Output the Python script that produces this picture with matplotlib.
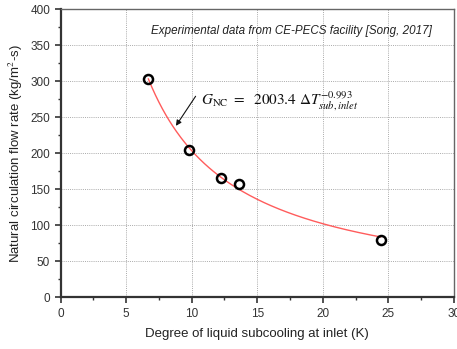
import matplotlib
matplotlib.use('Agg')
import matplotlib.pyplot as plt
from matplotlib.ticker import MultipleLocator
import numpy as np

subcooling = [6.7, 9.8, 12.2, 13.6, 24.4]
flow_rate = [303, 205, 166, 157, 80]

# fit shown on the chart: G = 2003.4 * dT^-0.993
fit_coef = 2003.4
fit_exp = -0.993
fit_range = [6.7, 24.4]

plt.rcParams['font.family'] = ['Liberation Sans', 'DejaVu Sans']
plt.rcParams['mathtext.fontset'] = 'stix'

fig = plt.figure(figsize=(4.57, 3.49), dpi=100)
ax = fig.add_axes([0.1324, 0.1476, 0.8610, 0.8266])

dt = np.linspace(fit_range[0], fit_range[1], 200)
ax.plot(dt, fit_coef * dt ** fit_exp, color='#ff5c5c', linewidth=1.0, zorder=2)
ax.plot(subcooling, flow_rate, 'o', markersize=6.5, markerfacecolor='none',
        markeredgecolor='black', markeredgewidth=1.8, zorder=3)

ax.set_xlim(0, 30)
ax.set_ylim(0, 400)
ax.xaxis.set_major_locator(MultipleLocator(5))
ax.xaxis.set_minor_locator(MultipleLocator(2.5))
ax.yaxis.set_major_locator(MultipleLocator(50))
ax.yaxis.set_minor_locator(MultipleLocator(25))
ax.grid(True, which='major', color='#aaaaaa', linestyle=(0, (1, 1.2)), linewidth=0.7)
ax.set_axisbelow(True)

ax.tick_params(which='both', direction='out', colors='#333333', labelsize=8.5)
ax.tick_params(which='major', length=4, width=1.2)
ax.tick_params(which='minor', length=2.5, width=1.0)

for side in ['left', 'bottom']:
    ax.spines[side].set_linewidth(1.6)
    ax.spines[side].set_color('#333333')
for side in ['right', 'top']:
    ax.spines[side].set_linewidth(1.0)
    ax.spines[side].set_color('#666666')

ax.set_xlabel('Degree of liquid subcooling at inlet (K)', fontsize=9.5, color='#222222', labelpad=6)
ax.set_ylabel('Natural circulation flow rate (kg/m$^2$-s)', fontsize=9.5, color='#222222', labelpad=4)

ax.text(17.6, 370, 'Experimental data from CE-PECS facility [Song, 2017]',
        fontsize=8.4, style='italic', ha='center', va='center', color='#222222')

ax.text(10.7, 273, r'$G_{\rm NC}\ =\ \ 2003.4\ \Delta T_{sub,inlet}^{-0.993}$',
        fontsize=11, ha='left', va='center', color='#111111')
ax.annotate('', xy=(8.8, 238), xytext=(10.3, 279),
            arrowprops=dict(arrowstyle='-|>', color='#111111', lw=0.8,
                            mutation_scale=8, shrinkA=0, shrinkB=0))

fig.savefig('out.png', dpi=100)
